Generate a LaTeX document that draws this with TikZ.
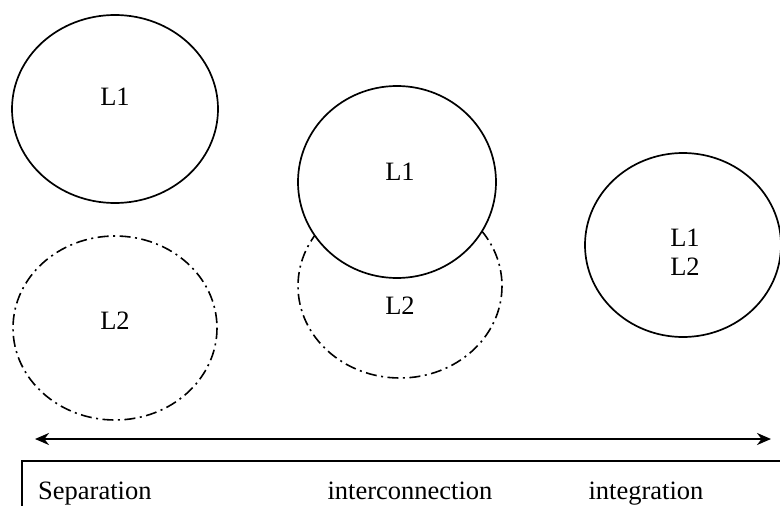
\documentclass[tikz,border=0pt]{standalone}
\usepackage{fontspec}
\setmainfont{Liberation Serif}
\usetikzlibrary{arrows.meta}
\begin{document}
\begin{tikzpicture}[x=1pt,y=-1pt,
  lbl/.style={font=\fontsize{26.5}{29}\selectfont, inner sep=0pt},
  solidell/.style={draw=black, line width=1.7pt, fill=white},
  dashell/.style={draw=black, line width=1.6pt, dash pattern=on 11pt off 4.5pt on 2pt off 4.5pt},
  scalearrow/.style={line width=2.2pt, {Stealth[length=14pt,width=12pt]}-{Stealth[length=14pt,width=12pt]}}
]
\useasboundingbox (0,0) rectangle (780,506);
% separation
\draw[solidell] (115,109) ellipse [x radius=103, y radius=94];
\node[lbl] (s1) at (115,97) {L1};
\draw[dashell] (115,328) ellipse [x radius=102, y radius=92];
\node[lbl] (s2) at (115,321) {L2};
% interconnection
\draw[dashell] (400,286) ellipse [x radius=102, y radius=92];
\draw[solidell] (397,182) ellipse [x radius=99, y radius=96];
\node[lbl] (m1) at (400,172) {L1};
\node[lbl] (m2) at (400,306) {L2};
% integration
\draw[solidell] (683,245) ellipse [x radius=98, y radius=92];
\node[lbl, align=center] (i12) at (685,252) {L1\\L2};
% scale arrow
\coordinate (al) at (35,439);
\coordinate (ar) at (771,439);
\draw[scalearrow] (al) -- (ar);
% bottom box
\coordinate (b0) at (22,506);
\coordinate (b1) at (22,461);
\coordinate (b2) at (780,461);
\draw[line width=1.4pt] (b0) -- (b1) -- (b2);
\node[lbl, anchor=base west] (t1) at (38,499) {Separation};
\node[lbl, anchor=base] (t2) at (410,499) {interconnection};
\node[lbl, anchor=base] (t3) at (646,499) {integration};
\end{tikzpicture}
\end{document}
